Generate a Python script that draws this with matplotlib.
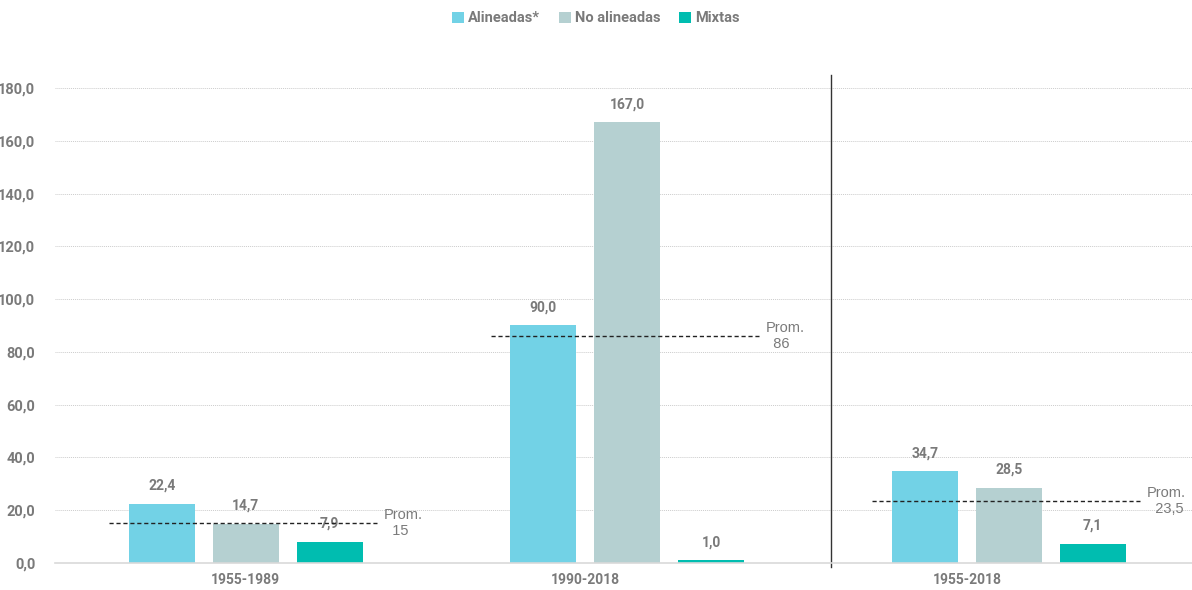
import matplotlib.pyplot as plt
import numpy as np

periods = ["1955-1989", "1990-2018", "1955-2018"]
series = ["Alineadas*", "No alineadas", "Mixtas"]
alineadas = [22.4, 90.0, 34.7]
no_alineadas = [14.7, 167.0, 28.5]
mixtas = [7.9, 1.0, 7.1]
promedios = [15, 86, 23.5]
prom_labels = ["15", "86", "23,5"]
period_label_pos = [0, 0.89, 1.89]

colors = ["#72D2E6", "#B5D0D1", "#00BDB0"]
gray = "#7a7a7a"

plt.rcParams["font.family"] = ["Roboto", "DejaVu Sans"]

fig = plt.figure(figsize=(11.92, 5.9), dpi=100)
ax = fig.add_axes([0.046, 0.046, 0.954, 0.827])

x = np.arange(len(periods))
step = 0.22
width = 0.173
values = [alineadas, no_alineadas, mixtas]
for i, (name, vals, col) in enumerate(zip(series, values, colors)):
    pos = x + (i - 1) * step
    ax.bar(pos, vals, width=width, color=col, label=name, zorder=2)
    for px, v in zip(pos, vals):
        ax.annotate(f"{v:.1f}".replace(".", ","), (px, v), xytext=(0, 8),
                    textcoords="offset points", ha="center", va="bottom",
                    fontsize=10, fontweight="bold", color=gray)

# average line per period
for xi, p, lab in zip(x, promedios, prom_labels):
    ax.plot([xi - 0.358, xi + 0.345], [p, p], ls=(0, (3, 2)), color="#222222",
            lw=1, zorder=3)
    ax.text(xi + 0.362, p, "Prom.\n  " + lab, fontsize=10.5, color=gray,
            family="Liberation Sans", va="center", ha="left", linespacing=1.15)

# divider between sub-periods and full period
ax.axvline(1.535, color="#333333", lw=1, ymin=-0.008, clip_on=False)

ax.set_xlim(-0.5, 2.48)
ax.set_ylim(0, 185)
ax.set_yticks(np.arange(0, 181, 20))
ax.set_yticklabels([f"{t:.1f}".replace(".", ",") for t in np.arange(0, 181, 20)])
ax.set_xticks(period_label_pos)
ax.set_xticklabels(periods)
ax.tick_params(length=0, colors=gray, labelsize=10.5)
ax.tick_params(axis="x", pad=7, labelsize=10)
for lab in ax.get_xticklabels() + ax.get_yticklabels():
    lab.set_fontweight("bold")
ax.yaxis.set_tick_params(pad=14)
ax.grid(axis="y", color="#cccccc", ls=(0, (1, 1)), lw=0.7, zorder=0)
for s in ["top", "right", "left"]:
    ax.spines[s].set_visible(False)
ax.spines["bottom"].set_color("#d9d9d9")
ax.spines["bottom"].set_linewidth(1.2)

leg = fig.legend(loc="upper center", bbox_to_anchor=(0.5, 1.003), ncol=3,
                 frameon=False, handlelength=0.8, handleheight=0.8,
                 handletextpad=0.3, columnspacing=1.3, fontsize=10.5)
for t in leg.get_texts():
    t.set_color(gray)
    t.set_fontweight("bold")

fig.savefig("out.png", dpi=100)
